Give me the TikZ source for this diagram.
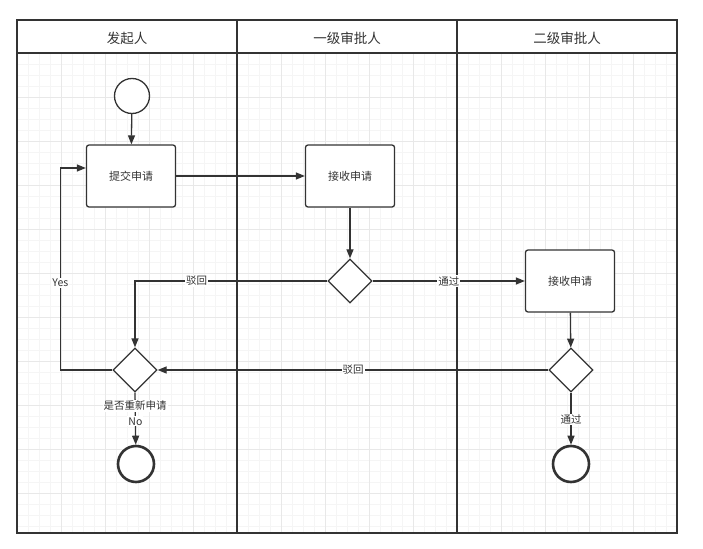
\documentclass[tikz,border=0pt]{standalone}
\usepackage{fontspec}
\setmainfont{Noto Sans CJK SC}
\usetikzlibrary{shapes.geometric,arrows.meta}
\definecolor{ink}{HTML}{333333}
\begin{document}
\begin{tikzpicture}[x=1pt,y=-1pt,
  arr/.style={draw=ink,line width=1.3pt,-{Triangle[length=9pt,width=7pt]}},
  box/.style={draw=ink,rectangle,rounded corners=2.5pt,line width=1.3pt,fill=white,minimum width=89pt,minimum height=62pt,font=\fontsize{11}{13}\selectfont,text=ink},
  dia/.style={draw=ink,diamond,line width=1.3pt,fill=white,minimum width=44pt,minimum height=44pt,inner sep=0pt},
  lbl/.style={fill=white,inner sep=1pt,font=\fontsize{10.5}{12}\selectfont,text=ink},
  hdr/.style={font=\fontsize{13.5}{15}\selectfont,text=ink}]
\useasboundingbox (0,0) rectangle (703,548);
\fill[white] (0,0) rectangle (703,548);
% grid
\foreach \x in {17,28,...,677} \draw[gray!8,line width=0.4pt] (\x,53) -- (\x,533);
\foreach \y in {53,64,...,533} \draw[gray!8,line width=0.4pt] (17,\y) -- (677,\y);
\foreach \x in {17,61,...,677} \draw[gray!18,line width=0.5pt] (\x,53) -- (\x,533);
\foreach \y in {53,97,...,533} \draw[gray!18,line width=0.5pt] (17,\y) -- (677,\y);
% lanes
\draw[ink,line width=1.4pt] (17,20) rectangle (677,533);
\draw[ink,line width=1.4pt] (17,53) -- (677,53);
\draw[ink,line width=1.4pt] (237,20) -- (237,533);
\draw[ink,line width=1.4pt] (457,20) -- (457,533);
\node[hdr] (h1) at (127,38) {发起人};
\node[hdr] (h2) at (347,38) {一级审批人};
\node[hdr] (h3) at (567,38) {二级审批人};
% nodes
\node[circle,draw=ink,line width=1.3pt,fill=white,minimum size=35pt,inner sep=0pt] (start) at (132,96) {};
\node[box] (b1) at (131,176) {提交申请};
\node[box] (b2) at (350,176) {接收申请};
\node[box] (b3) at (570,281) {接收申请};
\node[dia] (d1) at (350,281) {};
\node[dia] (d2) at (135,370) {};
\node[dia] (d3) at (571,370) {};
\node[circle,draw=ink,line width=2.6pt,fill=white,minimum size=36pt,inner sep=0pt] (e1) at (136,464) {};
\node[circle,draw=ink,line width=2.6pt,fill=white,minimum size=36pt,inner sep=0pt] (e2) at (571,464) {};
% edges
\draw[arr] (start) -- (b1);
\draw[arr] (b1) -- (b2);
\draw[arr] (b2) -- (d1);
\draw[arr] (d1) -- node[lbl]{通过} (b3);
\draw[arr] (d1.west) -| node[lbl,pos=0.34]{驳回} (d2.north);
\draw[arr] (b3) -- (d3);
\draw[arr] (d3) -- node[lbl]{驳回} (d2);
\draw[arr] (d3) -- node[lbl,pos=0.52]{通过} (e2);
\draw[arr] (d2.south) -- node[lbl,pos=0.55]{No} (e1);
\node[lbl,anchor=north] (q) at ([yshift=-7pt]d2.south) {是否重新申请};
\draw[arr] (d2.west) -- ++(-52,0) |- node[lbl,pos=0.215]{Yes} ([yshift=8pt]b1.west);
\end{tikzpicture}
\end{document}
